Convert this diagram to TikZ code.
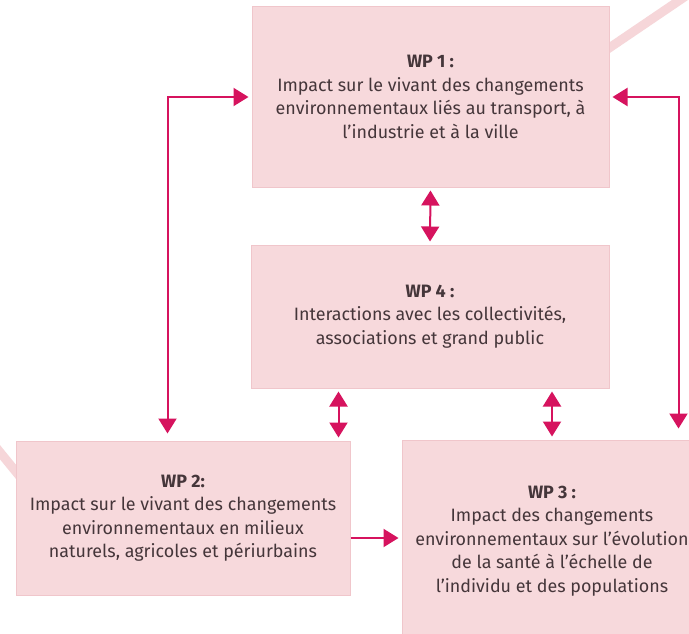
\documentclass[tikz,border=0pt]{standalone}
\usepackage{fontspec}
\setmainfont{Fira Sans}
\usetikzlibrary{arrows.meta,positioning}
\definecolor{wpfill}{HTML}{F7D9DC}
\definecolor{wpline}{HTML}{F0C6CB}
\definecolor{wpdeco}{HTML}{F6D6D9}
\definecolor{wparrow}{HTML}{D6135E}
\definecolor{wptext}{HTML}{45363A}
\begin{document}
\begin{tikzpicture}[x=1pt,y=-1pt,>={Triangle[length=15pt,width=18pt]},
		wpbox/.style={draw=wpline,fill=wpfill,line width=1pt,text=wptext,align=center,inner sep=0pt,font=\fontsize{17.9}{23.5}\selectfont},
		link/.style={draw=wparrow,line width=2pt,->,shorten >=3pt},
		both/.style={link,<->,shorten <=3pt}]
				\useasboundingbox (0,0) rectangle (689,634);
				\clip (-1,-1) rectangle (690,635);
				\fill[white] (0,0) rectangle (689,634);
				\draw[wpdeco,line width=9pt] (590,61) -- (705,-17);
				\draw[wpdeco,line width=9pt] (-10,440) -- (30,489);
				\node[wpbox,minimum width=357pt,minimum height=180pt] (wp1) at (430.5,97) {\textbf{WP 1 :}\\Impact sur le vivant des changements\\environnementaux liés au transport, à\\l'industrie et à la ville};
				\node[wpbox,minimum width=358pt,minimum height=143pt] (wp4) at (430,316.5) {\textbf{WP 4 :}\\Interactions avec les collectivités,\\associations et grand public};
				\node[wpbox,minimum width=334pt,minimum height=154pt] (wp2) at (183,518) {\textbf{WP 2:}\\Impact sur le vivant des changements\\environnementaux en milieux\\naturels, agricoles et périurbains};
				\node[wpbox,minimum width=300pt,minimum height=202pt] (wp3) at (552,541) {\textbf{WP 3 :}\\Impact des changements\\environnementaux sur l'évolution\\de la santé à l'échelle de\\l'individu et des populations};
				\path (wp2.north west) ++(152,0) coordinate (a1);
				\path (wp2.north east) ++(-12,0) coordinate (a2);
				\path (wp3.north west) ++(277,0) coordinate (b1);
				\path (wp2.east) ++(0,20) coordinate (c1);
				\draw[both] (wp1.south) -- (wp4.north);
				\draw[both] (a2 |- wp4.south) -- (a2);
				\draw[both] (wp3.north |- wp4.south) -- (wp3.north);
				\draw[both,shorten >=7pt] (wp1.west) -| (a1);
				\draw[both,shorten >=11pt] (wp1.east) -| (b1);
				\draw[link] (c1) -- (c1 -| wp3.west);
		\end{tikzpicture}
\end{document}
